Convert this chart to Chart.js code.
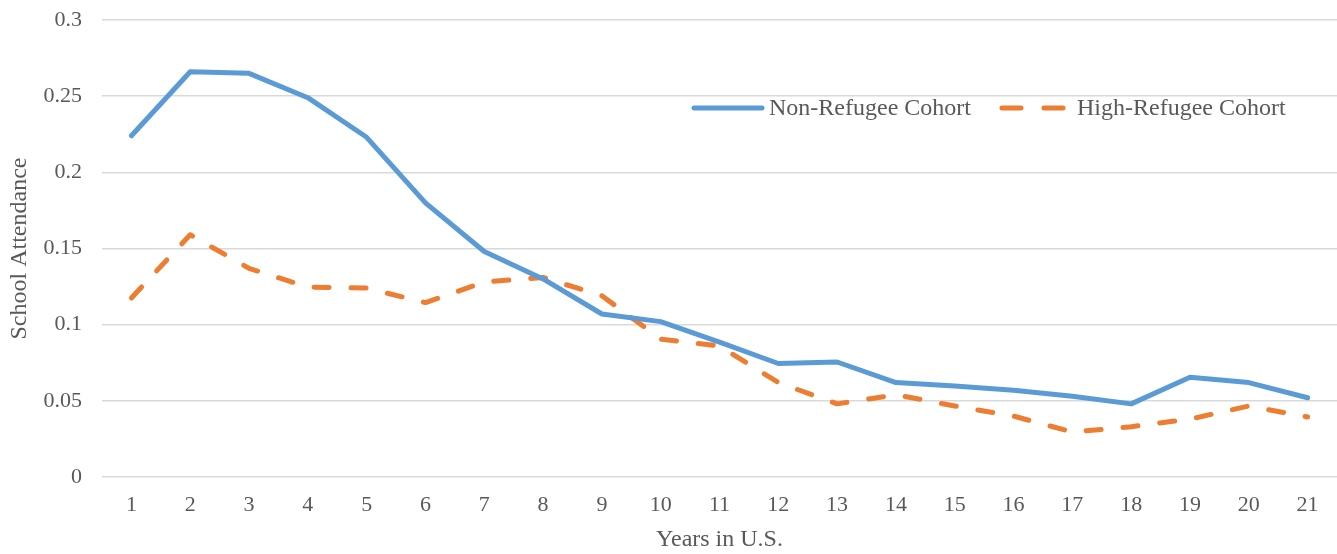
<!DOCTYPE html>
<html>
<head>
<meta charset="utf-8">
<script src="https://cdn.jsdelivr.net/npm/chart.js@4/dist/chart.umd.min.js"></script>
<style>
  html, body { margin: 0; padding: 0; background: #fff; }
  #wrap { width: 1337px; height: 554px; }
</style>
</head>
<body>
<div id="wrap"><canvas id="chart" width="1337" height="554"></canvas></div>
<script>
const years = ["1","2","3","4","5","6","7","8","9","10","11","12","13","14","15","16","17","18","19","20","21"];
const nonRefugee = [0.224, 0.266, 0.265, 0.249, 0.223, 0.180, 0.148, 0.130, 0.107, 0.102, 0.0886,
                    0.0745, 0.0755, 0.062, 0.0597, 0.057, 0.053, 0.048, 0.0655, 0.062, 0.052];
const highRefugee = [0.1175, 0.159, 0.137, 0.1247, 0.124, 0.1145, 0.128, 0.131, 0.119, 0.0905, 0.086,
                     0.062, 0.048, 0.054, 0.0466, 0.040, 0.0295, 0.033, 0.038, 0.0466, 0.0394];
const yTicks = [0, 0.05, 0.1, 0.15, 0.2, 0.25, 0.3];

const textColor = "#595959";
const gridColor = "#d9d9d9";
const fontFamily = "'Liberation Serif', 'Times New Roman', serif";

// Legend drawn inside the plot area, like the original
const insideLegend = {
    id: "insideLegend",
    afterDraw(chart) {
        const ctx = chart.ctx;
        const y = 108;
        const items = [
            { ds: chart.data.datasets[0], x: 692 },
            { ds: chart.data.datasets[1], x: 1000 }
        ];
        ctx.save();
        ctx.font = "24px " + fontFamily;
        ctx.textBaseline = "middle";
        items.forEach(item => {
            ctx.beginPath();
            ctx.lineWidth = 5;
            ctx.lineCap = "round";
            ctx.strokeStyle = item.ds.borderColor;
            ctx.setLineDash(item.ds.borderDash ? [19, 23] : []);
            ctx.moveTo(item.x + 2, y);
            ctx.lineTo(item.x + 70, y);
            ctx.stroke();
            ctx.setLineDash([]);
            ctx.fillStyle = textColor;
            ctx.fillText(item.ds.label, item.x + 77, y + 1);
        });
        ctx.restore();
    }
};

new Chart(document.getElementById("chart"), {
    type: "line",
    data: {
        labels: years,
        datasets: [
            {
                label: "Non-Refugee Cohort",
                data: nonRefugee,
                borderColor: "#5b9bd5",
                borderWidth: 5,
                pointRadius: 0,
                tension: 0,
                borderJoinStyle: "round",
                borderCapStyle: "round"
            },
            {
                label: "High-Refugee Cohort",
                data: highRefugee,
                borderColor: "#ed7d31",
                borderWidth: 5,
                borderDash: [15, 22],
                borderCapStyle: "round",
                borderJoinStyle: "round",
                pointRadius: 0,
                tension: 0
            }
        ]
    },
    options: {
        responsive: false,
        animation: false,
        layout: { padding: { top: 20, right: 0, bottom: 0, left: 0 } },
        plugins: {
            legend: { display: false },
            tooltip: { enabled: false }
        },
        scales: {
            x: {
                offset: true,
                grid: { display: false, drawTicks: false },
                border: { display: false },
                ticks: { color: textColor, font: { family: fontFamily, size: 22 }, padding: 15, maxRotation: 0 },
                title: {
                    display: true,
                    text: "Years in U.S.",
                    color: textColor,
                    font: { family: fontFamily, size: 24 },
                    padding: { top: 4, bottom: 0 }
                },
                afterFit(scale) {
                    scale.height = 77;
                    scale.paddingLeft = 0;
                    scale.paddingRight = 0;
                }
            },
            y: {
                min: 0,
                max: 0.3,
                afterBuildTicks(scale) { scale.ticks = yTicks.map(v => ({ value: v })); },
                grid: { color: gridColor, lineWidth: 1.5, drawTicks: false },
                border: { display: false },
                ticks: {
                    color: textColor,
                    font: { family: fontFamily, size: 22 },
                    padding: 20,
                    callback: v => String(v)
                },
                title: {
                    display: true,
                    text: "School Attendance",
                    color: textColor,
                    font: { family: fontFamily, size: 24 },
                    padding: { top: 5, bottom: 0 }
                },
                afterFit(scale) {
                    scale.width = 102;
                    scale.paddingTop = 0;
                    scale.paddingBottom = 0;
                }
            }
        }
    },
    plugins: [insideLegend]
});
</script>
</body>
</html>
